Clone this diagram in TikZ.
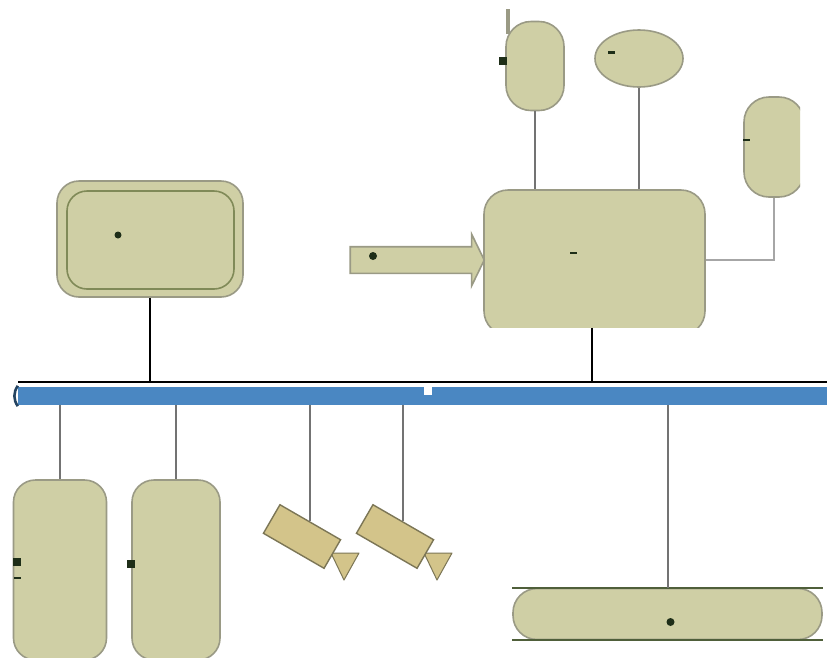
\documentclass[tikz,border=0pt]{standalone}
\usepackage{tikz}
\usetikzlibrary{positioning, shapes.geometric, shapes.arrows}
\definecolor{boxFill}{HTML}{CFCFA5}
\definecolor{boxEdge}{HTML}{9A9A85}
\definecolor{innerEdge}{HTML}{808A58}
\definecolor{camFill}{HTML}{D3C48A}
\definecolor{camEdge}{HTML}{7C7656}
\definecolor{busBlue}{HTML}{4A87C2}
\definecolor{markDark}{HTML}{1E2E18}
\definecolor{tankEdge}{HTML}{4F5F3A}

\begin{document}
\begin{tikzpicture}[
    x=1pt, y=-1pt,
    box/.style={draw=boxEdge, fill=boxFill, line width=1.6pt, rounded corners=22pt, inner sep=0pt},
    cam/.style={draw=camEdge, fill=camFill, line width=1.4pt, minimum width=70pt, minimum height=33pt,
                rotate=-30, inner sep=0pt},
    lens/.style={draw=camEdge, fill=camFill, line width=1pt, line join=round},
    link/.style={draw=black!55, line width=1.7pt},
    linkpale/.style={draw=black!35, line width=1.7pt},
    linkdark/.style={draw=black, line width=1.8pt},
    dotmark/.style={fill=markDark, circle, inner sep=0pt, minimum size=7pt},
    dashmark/.style={fill=markDark, inner sep=0pt, minimum width=7pt, minimum height=3pt},
    squaremark/.style={fill=markDark, inner sep=0pt, minimum size=8pt},
]
\useasboundingbox (0,0) rectangle (827,657);
\fill[white] (0,0) rectangle (827,657);

% bus
\coordinate (busline) at (18,382);
\coordinate (busend) at (827,382);
\node[fill=busBlue, inner sep=0pt, minimum width=809pt, minimum height=18pt] (bus) at (422.5,396) {};
\node[fill=white, inner sep=0pt, minimum size=8pt] (gap) at (428,391) {};
\draw[linkdark] (busline) -- (busend);
\draw[draw=busBlue!50!black, line width=2.6pt] ([yshift=1pt]bus.north west) to[bend right=35] ([yshift=-1pt]bus.south west);

% upper devices
\coordinate (mast) at (508,9);
\coordinate (mastfoot) at (508,34);
\draw[draw=boxEdge, line width=4pt] (mast) -- (mastfoot);
\node[box, minimum width=186pt, minimum height=116pt] (store) at (150,239) {};
\node[box, draw=innerEdge, minimum width=167pt, minimum height=98pt, rounded corners=20pt] (storein) at (150.5,240) {};
\node[box, minimum width=58pt, minimum height=89pt, rounded corners=25pt] (pill) at (535,66) {};
\node[ellipse, draw=boxEdge, fill=boxFill, line width=1.6pt, minimum width=88pt, minimum height=57pt, inner sep=0pt] (oval) at (639,58.5) {};
\begin{scope}
    \clip (0,0) rectangle (800,327);
    \node[box, minimum width=221pt, minimum height=145pt, rounded corners=24pt] (main) at (594.5,262.5) {};
    \node[box, minimum width=60pt, minimum height=100pt, rounded corners=25pt] (side) at (774,147) {};
\end{scope}
\node[single arrow, draw=boxEdge, fill=boxFill, line width=1.6pt, inner xsep=0pt, inner ysep=12.5pt, minimum height=134pt,
      single arrow head extend=12.5pt, single arrow tip angle=128] (feed) at (414,260) {};

% lower devices
\node[box, minimum width=93pt, minimum height=180pt] (lowa) at (60,570) {};
\node[box, minimum width=88pt, minimum height=180pt] (lowb) at (176,570) {};
\node[box, minimum width=309pt, minimum height=51pt, rounded corners=24pt] (tank) at (667.5,614) {};
\draw[draw=tankEdge, line width=2pt] (tank.north west) -- (tank.north east);
\draw[draw=tankEdge, line width=2pt] (tank.south west) -- (tank.south east);

% cameras
\foreach \cx/\nm in {302/cama, 395/camb} {
    \draw[lens] (\cx+29,553) -- (\cx+57,553) -- (\cx+42,580) -- cycle;
    \node[cam] (\nm) at (\cx,536.5) {};
    \coordinate (\nm top) at (\cx+8,521);
}

% links
\draw[linkdark] (store.south) -- (store.south |- busline);
\draw[linkdark] ([xshift=-2.5pt]main.south) ++(0,-8) -- ([xshift=-2.5pt]main.south |- busline);
\draw[link] (pill.south) -- (pill.south |- main.north);
\draw[link] (oval.south) -- (oval.south |- main.north);
\draw[linkpale] (side.south) |- (main.east |- 0,260);
\draw[link] (lowa.north |- bus.south) -- (lowa.north);
\draw[link] (lowb.north |- bus.south) -- (lowb.north);
\draw[link] (camatop |- bus.south) -- (camatop);
\draw[link] (cambtop |- bus.south) -- (cambtop);
\draw[link, line width=2pt] (tank.north |- bus.south) -- (tank.north);

% small marks
\node[dotmark] (mstore) at (118,235) {};
\node[dotmark, minimum size=8pt] (mfeed) at (373,256) {};
\node[dashmark, minimum height=2pt] (mmain) at (573,253) {};
\node[dashmark] (moval) at (611,52.5) {};
\node[squaremark] (mpill) at (503,61) {};
\node[dashmark, minimum height=2pt] (mside) at (746,140) {};
\node[squaremark] (mlowa) at (17,562) {};
\node[dashmark, minimum height=1.5pt] (mlowa2) at (17,578) {};
\node[squaremark] (mlowb) at (131,564) {};
\node[dotmark, minimum size=8pt] (mtank) at (670.5,622) {};
\end{tikzpicture}
\end{document}
